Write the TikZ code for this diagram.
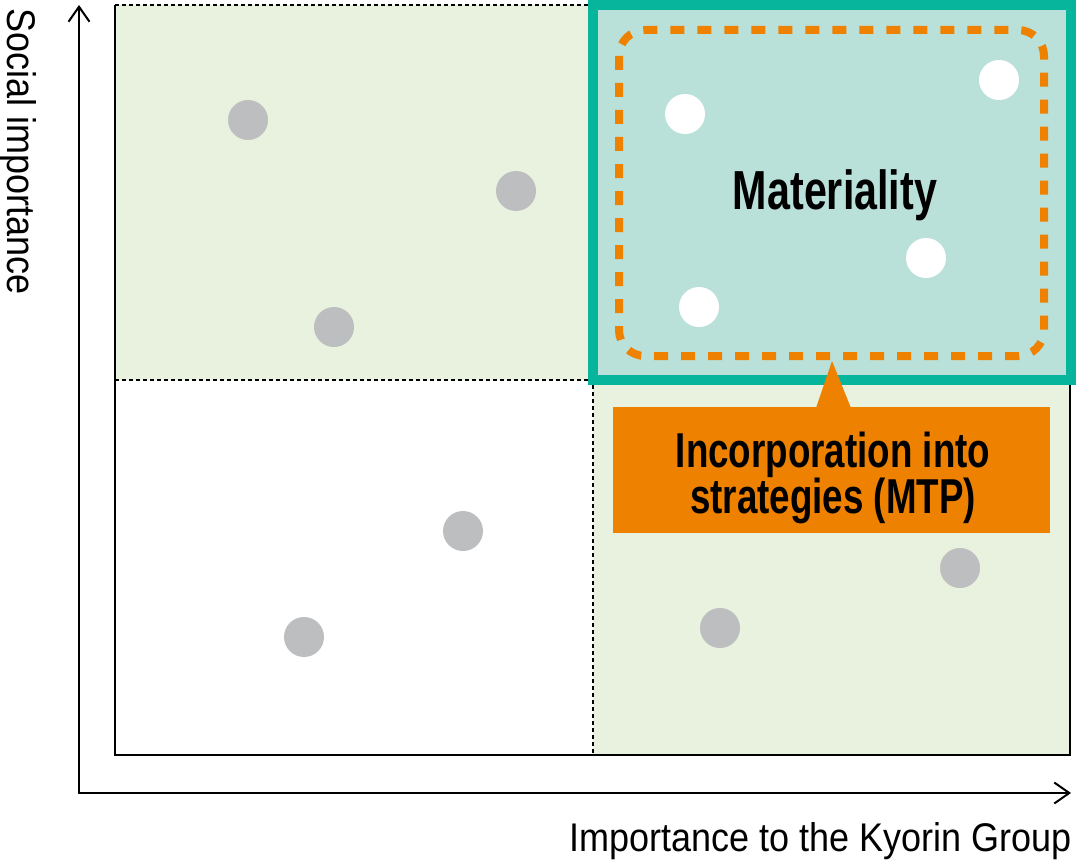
\documentclass[tikz,border=0pt]{standalone}
\usepackage{fontspec}
\setmainfont{Liberation Sans}[FakeStretch=0.9]
\newfontfamily\headfont{Liberation Sans}[FakeStretch=0.75]
\usetikzlibrary{arrows.meta}
\definecolor{quadgreen}{HTML}{E8F2DF}
\definecolor{matteal}{HTML}{07B49C}
\definecolor{matfill}{HTML}{BAE0DA}
\definecolor{dotgray}{HTML}{BDBEC0}
\definecolor{mtporange}{HTML}{EE8200}

\begin{document}
\begin{tikzpicture}[x=1pt, y=-1pt,
  quad/.style={fill=quadgreen, draw=none},
  frame/.style={line width=2pt, black},
  divider/.style={line width=1.5pt, dash pattern=on 4pt off 3pt},
  issue/.style={circle, fill=dotgray, minimum size=40pt, inner sep=0pt},
  material/.style={issue, fill=white},
  axis/.style={line width=2pt, {Straight Barb[length=15pt, width=21pt]}-{Straight Barb[length=15pt, width=21pt]}},
  axislabel/.style={font=\fontsize{40}{44}\selectfont, inner sep=0pt},
  callout/.style={fill=mtporange, minimum width=437pt, minimum height=126pt, inner sep=0pt},
  callouttext/.style={align=center, inner sep=0pt,
                      font=\headfont\bfseries\fontsize{49}{46}\selectfont}]
  \useasboundingbox (0,0) rectangle (1076,864);
  % quadrants
  \fill[quad] (115,5) rectangle (593,380);
  \fill[quad] (593,380) rectangle (1070,755);
  \draw[frame] (115,5) -- (115,755) -- (1070,755) -- (1070,380);
  \draw[divider] (115,5) -- (588,5);
  \draw[divider] (115,380) -- (588,380);
  \draw[divider] (593,385) -- (593,755);
  % materiality area
  \draw[line width=10pt, draw=matteal, fill=matfill] (593,5) rectangle (1071,380);
  \draw[line width=8pt, mtporange, dash pattern=on 14pt off 13pt, rounded corners=26pt]
    (619,30) rectangle (1044,356);
  % axes
  \coordinate (ytip) at (79,5);
  \coordinate (origin) at (79,793);
  \coordinate (xtip) at (1071,793);
  \draw[axis] (ytip) -- (origin) -- (xtip);
  \node[axislabel, rotate=-90, anchor=base west] (ylabel) at (8,8) {Social importance};
  \node[axislabel, anchor=base east] (xlabel) at (1072,851) {Importance to the Kyorin Group};
  % issues
  \node[issue] (g1) at (248,120) {};
  \node[issue] (g2) at (516,191) {};
  \node[issue] (g3) at (334,327) {};
  \node[issue] (g4) at (463,531) {};
  \node[issue] (g5) at (304,637) {};
  \node[issue] (g6) at (720,628) {};
  \node[issue] (g7) at (960,568) {};
  \node[material] (m1) at (685,114) {};
  \node[material] (m2) at (999,80) {};
  \node[material] (m3) at (926,258) {};
  \node[material] (m4) at (699,307) {};
  \node[font=\headfont\bfseries\fontsize{55}{60}\selectfont, anchor=base, inner sep=0pt]
    (mat) at (835,209) {Materiality};
  % callout
  \fill[mtporange] (816,408) -- (832,361) -- (851,408) -- cycle;
  \node[callout] (mtp) at (831.5,470) {};
  \node[callouttext] (mtptext) at (833,478) {Incorporation into\\strategies (MTP)};
\end{tikzpicture}
\end{document}
